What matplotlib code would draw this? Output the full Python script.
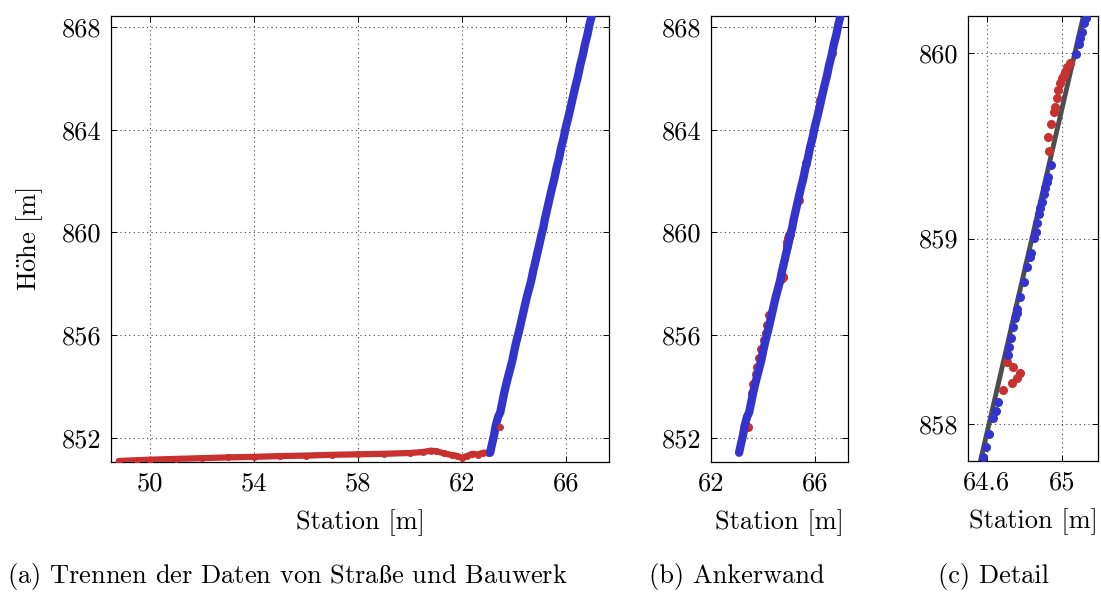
import matplotlib
matplotlib.use("Agg")
import matplotlib.pyplot as plt

plt.rcParams['font.family'] = ['cmr10', 'DejaVu Serif']
plt.rcParams['axes.formatter.use_mathtext'] = True
plt.rcParams['mathtext.fontset'] = 'cm'

RED = '#c93030'
BLUE = '#3434cc'
GRAY = '#4d4d4d'

# road points (red in panel a)
road_x = [48.8, 49.5, 50.0, 51.0, 52.0, 53.0, 54.0, 55.0, 56.0, 57.0, 58.0, 59.0,
          60.0, 60.5, 60.8, 61.0, 61.3, 61.6, 61.8, 62.0, 62.2, 62.4, 62.6, 62.8, 63.0]
road_y = [851.10, 851.13, 851.15, 851.18, 851.21, 851.24, 851.26, 851.29, 851.31,
          851.34, 851.36, 851.38, 851.41, 851.45, 851.50, 851.48, 851.40, 851.33,
          851.30, 851.22, 851.30, 851.38, 851.35, 851.42, 851.42]
stray_x = [63.47]
stray_y = [852.43]

# wall points kept (blue)
wall_x = [63.08, 63.15, 63.23, 63.29, 63.38, 63.47, 63.55, 63.62, 63.70, 63.75,
          63.84, 63.93, 64.02, 64.10, 64.20, 64.29, 64.38, 64.47,
          64.580, 64.595, 64.611, 64.634, 64.646, 64.657, 64.710, 64.717, 64.726,
          64.737, 64.749, 64.758, 64.762, 64.778, 64.797, 64.812, 64.829, 64.835,
          64.851, 64.860, 64.868, 64.877, 64.883, 64.892, 64.904, 64.911, 64.918,
          64.924, 64.940, 65.073, 65.087, 65.096, 65.105, 65.117, 65.126,
          65.18, 65.27, 65.36, 65.45, 65.55, 65.63, 65.73, 65.81, 65.91, 65.99,
          66.09, 66.18, 66.27, 66.36, 66.46, 66.54, 66.64, 66.72, 66.82, 66.90, 66.98]
wall_y = [851.42, 851.75, 852.10, 852.45, 852.80, 853.00, 853.40, 853.75, 854.10, 854.30,
          854.65, 855.00, 855.45, 855.80, 856.20, 856.60, 857.00, 857.40,
          857.824, 857.874, 857.946, 858.031, 858.072, 858.120, 858.372, 858.417, 858.462,
          858.521, 858.570, 858.597, 858.618, 858.683, 858.767, 858.848, 858.899, 858.920,
          859.001, 859.037, 859.085, 859.132, 859.163, 859.198, 859.238, 859.270, 859.306,
          859.333, 859.398, 859.993, 860.047, 860.080, 860.115, 860.160, 860.190,
          860.50, 860.90, 861.30, 861.70, 862.10, 862.50, 862.90, 863.30, 863.70, 864.10,
          864.50, 864.90, 865.30, 865.70, 866.10, 866.50, 866.90, 867.30, 867.70, 868.10, 868.42]

# outliers removed (red in panels b and c)
out_x = [63.44, 63.56, 63.63, 63.72, 63.78, 63.86, 63.93, 64.03, 64.10, 64.16, 64.23,
         64.687, 64.732, 64.758, 64.776, 64.740, 64.708,
         64.932, 64.927, 64.940, 64.957, 64.963, 64.972, 64.980, 64.989, 64.998,
         65.007, 65.016, 65.028, 65.043,
         65.40, 65.65, 66.20, 66.65]
out_y = [852.43, 853.75, 854.10, 854.50, 854.75, 855.10, 855.45, 855.80, 856.10, 856.40, 856.80,
         858.183, 858.223, 858.246, 858.277, 858.309, 858.336,
         859.473, 859.550, 859.617, 859.684, 859.710, 859.756, 859.800, 859.840, 859.864,
         859.880, 859.900, 859.923, 859.944,
         861.25, 862.70, 865.15, 867.00]

# fitted wall line (gray in panel c)
fit_x = [63.12, 66.98]
fit_y = [851.45, 868.40]

fig = plt.figure(figsize=(11.01, 5.93), dpi=100)
bottom, height = 1 - 462 / 593, 446 / 593
ax_a = fig.add_axes([111 / 1101, bottom, 498 / 1101, height])
ax_b = fig.add_axes([711 / 1101, bottom, 137 / 1101, height])
ax_c = fig.add_axes([968 / 1101, 1 - 461 / 593, 130 / 1101, 445 / 593])

FS = 19

def style(ax):
    ax.grid(True, linestyle=(0, (1, 3)), color='#444444', linewidth=0.8)
    ax.set_axisbelow(True)
    ax.tick_params(direction='in', top=True, right=True, length=4, width=0.7,
                   labelsize=FS, pad=7)
    for s in ax.spines.values():
        s.set_linewidth(0.9)
    ax.set_xlabel('Station [m]', fontsize=FS, labelpad=10)

# (a) road vs structure
ax_a.plot(road_x, road_y, color=RED, lw=4.5, marker='o', ms=4, solid_capstyle='round', zorder=3)
ax_a.plot(wall_x, wall_y, color=BLUE, lw=6, solid_capstyle='round', zorder=3)
ax_a.plot(stray_x, stray_y, 'o', color=RED, ms=4, zorder=4)
ax_a.set_xlim(48.5, 67.65)
ax_a.set_ylim(851.06, 868.43)
ax_a.set_xticks([50, 54, 58, 62, 66], ['50', '54', '58', '62', '66'])
ax_a.set_yticks([852, 856, 860, 864, 868], ['852', '856', '860', '864', '868'])
style(ax_a)
ax_a.set_ylabel(r'H$\mathrm{\ddot{o}}$he [m]', fontsize=FS, labelpad=12)

# (b) anchored wall
ax_b.plot(out_x, out_y, 'o', color=RED, ms=5.5, zorder=3)
ax_b.plot(wall_x, wall_y, color=BLUE, lw=6, solid_capstyle='round', zorder=4)
ax_b.set_xlim(62.0, 67.27)
ax_b.set_ylim(851.06, 868.43)
ax_b.set_xticks([62, 66], ['62', '66'])
ax_b.set_yticks([852, 856, 860, 864, 868], ['852', '856', '860', '864', '868'])
style(ax_b)

# (c) detail
ax_c.plot(fit_x, fit_y, color=GRAY, lw=3.5, zorder=2)
ax_c.plot(out_x, out_y, 'o', color=RED, ms=5.5, zorder=3)
ax_c.plot(wall_x, wall_y, 'o', color=BLUE, ms=5.5, zorder=4)
ax_c.set_xlim(64.5, 65.19)
ax_c.set_ylim(857.8, 860.2)
ax_c.set_xticks([64.6, 65.0], ['64.6', '65'])
ax_c.set_yticks([858, 859, 860], ['858', '859', '860'])
style(ax_c)

fig.text(287 / 1101, 1 - 577 / 593, r'(a) Trennen der Daten von Stra$\mathrm{\ss}$e und Bauwerk',
         ha='center', va='center', fontsize=FS)
fig.text(737 / 1101, 1 - 577 / 593, '(b) Ankerwand', ha='center', va='center', fontsize=FS)
fig.text(993 / 1101, 1 - 577 / 593, '(c) Detail', ha='center', va='center', fontsize=FS)

fig.savefig('out.png', dpi=100)
